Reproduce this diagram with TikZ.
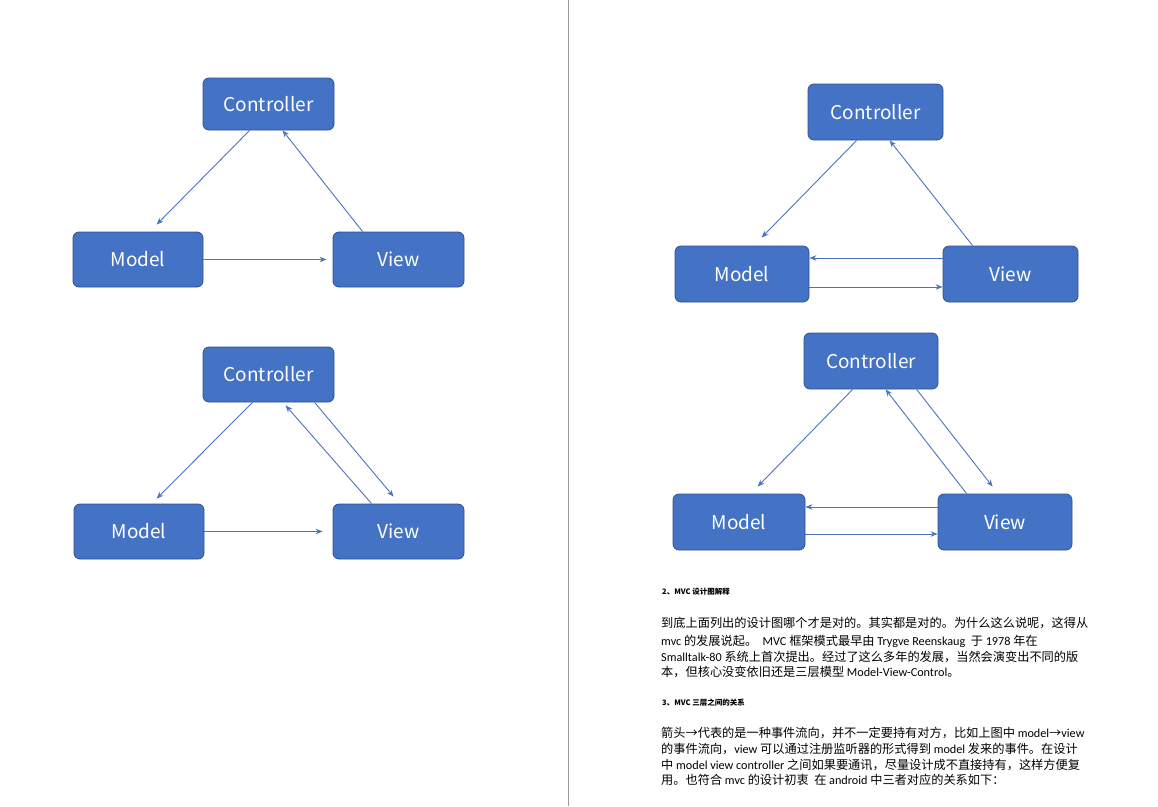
\documentclass[tikz,border=0pt]{standalone}
\usepackage{fontspec}
\setmainfont{Carlito}
\newfontfamily\cjk{Noto Sans CJK SC}
\newfontfamily\boxfont{Noto Sans CJK SC}
\usetikzlibrary{arrows.meta}
\definecolor{boxblue}{HTML}{4472C4}
\definecolor{boxedge}{HTML}{2F528F}
\definecolor{arrowblue}{HTML}{4A74C0}
\definecolor{divider}{HTML}{9C9C9C}
\begin{document}
\begin{tikzpicture}[x=1pt,y=-1pt,
  box/.style={rounded corners=6pt, fill=boxblue, draw=boxedge, line width=0.8pt,
    text=white, font=\boxfont\fontsize{19}{22}\selectfont, inner sep=0pt},
  link/.style={draw=arrowblue, line width=0.9pt, -{Stealth[length=7pt,width=5.5pt]}},
  para/.style={anchor=west, inner sep=0pt, font=\fontsize{12.2}{15}\selectfont},
  head/.style={anchor=west, inner sep=0pt, font=\cjk\bfseries\fontsize{7.5}{9}\selectfont}]
\useasboundingbox (0,0) rectangle (1158,806);
\fill[white] (0,0) rectangle (1158,806);
\coordinate (dtop) at (568,0);
\coordinate (dbot) at (568,806);
\draw[divider, line width=1pt] (dtop) -- (dbot);

% ---- top left
\node[box, minimum width=131pt, minimum height=52pt] (c1) at (268.5,104) {Controller};
\node[box, minimum width=130pt, minimum height=55pt] (m1) at (138,259.5) {Model};
\node[box, minimum width=131pt, minimum height=55pt] (v1) at (398.5,259.5) {View};
\draw[link] ([xshift=47pt]c1.south west) -- ([xshift=84pt,yshift=7pt]m1.north west);
\draw[link] ([xshift=30pt]v1.north west) -- ([xshift=80pt]c1.south west);
\draw[link] (m1.east) -- ([xshift=-6pt]v1.west);

% ---- top right
\node[box, minimum width=135pt, minimum height=56pt] (c2) at (875.5,112) {Controller};
\node[box, minimum width=134pt, minimum height=56pt] (m2) at (742,274) {Model};
\node[box, minimum width=135pt, minimum height=56pt] (v2) at (1010.5,274) {View};
\draw[link] ([xshift=49pt]c2.south west) -- ([xshift=87pt,yshift=8pt]m2.north west);
\draw[link] ([xshift=30pt]v2.north west) -- ([xshift=82pt]c2.south west);
\draw[link] ([yshift=16pt]v2.west) -- ([yshift=16pt]m2.east);
\draw[link] ([yshift=-13pt]m2.east) -- ([yshift=-13pt]v2.west);

% ---- bottom left
\node[box, minimum width=131pt, minimum height=55pt] (c3) at (268.5,374.5) {Controller};
\node[box, minimum width=130pt, minimum height=55pt] (m3) at (139,531.5) {Model};
\node[box, minimum width=131pt, minimum height=55pt] (v3) at (398.5,531.5) {View};
\draw[link] ([xshift=50pt]c3.south west) -- ([xshift=83pt,yshift=5pt]m3.north west);
\draw[link] ([xshift=39pt]v3.north west) -- ([xshift=83pt,yshift=-3pt]c3.south west);
\draw[link] ([xshift=112pt]c3.south west) -- ([xshift=61pt,yshift=7pt]v3.north west);
\draw[link] (m3.east) -- ([xshift=-10pt]v3.west);

% ---- bottom right
\node[box, minimum width=134pt, minimum height=56pt] (c4) at (871,361) {Controller};
\node[box, minimum width=132pt, minimum height=56pt] (m4) at (739,522) {Model};
\node[box, minimum width=134pt, minimum height=56pt] (v4) at (1005,522) {View};
\draw[link] ([xshift=49pt]c4.south west) -- ([xshift=85pt,yshift=7pt]m4.north west);
\draw[link] ([xshift=29pt]v4.north west) -- ([xshift=82pt]c4.south west);
\draw[link] ([xshift=113pt]c4.south west) -- ([xshift=55pt,yshift=7pt]v4.north west);
\draw[link] ([yshift=15pt]v4.west) -- ([yshift=15pt]m4.east);
\draw[link] ([yshift=-12pt]m4.east) -- ([yshift=-12pt]v4.west);

% ---- text
\node[head] (h2) at (662,592) {2、MVC 设计图解释};
\node[para] (p1a) at (661,623) {{\cjk 到底上面列出的设计图哪个才是对的。其实都是对的。为什么这么说呢，这得从}};
\node[para] (p1b) at (661,641) {mvc {\cjk 的发展说起。}\ \ MVC {\cjk 框架模式最早由} Trygve Reenskaug\ \ {\cjk 于} 1978 {\cjk 年在}};
\node[para] (p1c) at (661,657) {Smalltalk-80 {\cjk 系统上首次提出。经过了这么多年的发展，当然会演变出不同的版}};
\node[para] (p1d) at (661,672) {{\cjk 本，但核心没变依旧还是三层模型} Model-View-Control{\cjk 。}};

\node[head] (h3) at (662,703) {3、MVC 三层之间的关系};
\node[para] (p2a) at (661,733) {{\cjk 箭头→代表的是一种事件流向，并不一定要持有对方，比如上图中} model{\cjk →}view};
\node[para] (p2b) at (661,749) {{\cjk 的事件流向，}view {\cjk 可以通过注册监听器的形式得到} model {\cjk 发来的事件。在设计}};
\node[para] (p2c) at (661,765) {{\cjk 中} model view controller {\cjk 之间如果要通讯，尽量设计成不直接持有，这样方便复}};
\node[para] (p2d) at (661,780) {{\cjk 用。也符合} mvc {\cjk 的设计初衷\ \ 在} android {\cjk 中三者对应的关系如下：}};
\end{tikzpicture}
\end{document}
